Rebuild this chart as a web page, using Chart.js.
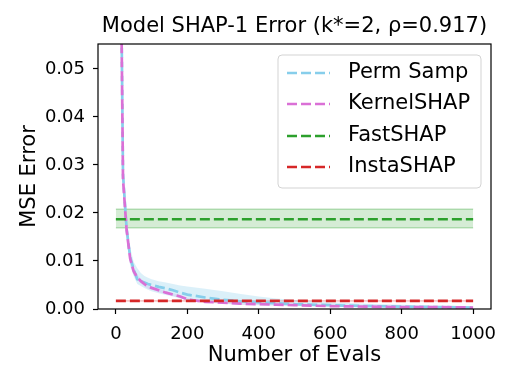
<!DOCTYPE html>
<html>
<head>
<meta charset="utf-8">
<script src="https://cdn.jsdelivr.net/npm/chart.js@4"></script>
<style>
  html, body { margin: 0; padding: 0; background: #fff; }
  #wrap { width: 515px; height: 386px; }
</style>
</head>
<body>
<div id="wrap"><canvas id="myChart" width="515" height="386"></canvas></div>
<script>
// evaluation counts for the sampling methods
const evals = [10, 20, 30, 40, 50, 60, 70, 80, 90, 100, 120, 140, 160, 180, 200,
    250, 300, 350, 400, 450, 500, 600, 700, 800, 900, 1000]
const permMean = [0.104, 0.028, 0.0168, 0.0108, 0.0082, 0.0062, 0.0058, 0.0055, 0.0052, 0.0050, 0.0046, 0.0043, 0.0039, 0.0034, 0.0030,
    0.0024, 0.0019, 0.0016, 0.0014, 0.0012, 0.0010, 0.0008, 0.0006, 0.0005, 0.0004, 0.0003]
const permHigh = [0.112, 0.032, 0.019, 0.0128, 0.0098, 0.0085, 0.0075, 0.0069, 0.0065, 0.0062, 0.0058, 0.0055, 0.0052, 0.0049, 0.0047,
    0.0042, 0.0037, 0.0031, 0.0026, 0.0022, 0.0019, 0.0014, 0.0011, 0.0009, 0.0007, 0.0006]
const permLow = [0.096, 0.024, 0.0145, 0.0090, 0.0068, 0.0052, 0.0048, 0.0044, 0.0040, 0.0037, 0.0033, 0.0029, 0.0026, 0.0022, 0.0019,
    0.0014, 0.0011, 0.0009, 0.0008, 0.0007, 0.0006, 0.0005, 0.0004, 0.0003, 0.0003, 0.0002]
const kernMean = [0.102, 0.027, 0.0165, 0.0105, 0.0078, 0.0066, 0.0058, 0.0052, 0.0047, 0.0044, 0.0039, 0.0034, 0.0030, 0.0026, 0.0020,
    0.0015, 0.0013, 0.0011, 0.0010, 0.0009, 0.0008, 0.0006, 0.0005, 0.0004, 0.0004, 0.0003]
const kernHigh = [0.106, 0.029, 0.0178, 0.0114, 0.0085, 0.0072, 0.0063, 0.0057, 0.0052, 0.0048, 0.0043, 0.0037, 0.0033, 0.0029, 0.0023,
    0.0017, 0.0014, 0.0012, 0.0011, 0.0010, 0.0009, 0.0007, 0.0006, 0.0005, 0.0005, 0.0004]
const kernLow = [0.098, 0.025, 0.0152, 0.0096, 0.0071, 0.0060, 0.0053, 0.0047, 0.0042, 0.0040, 0.0035, 0.0031, 0.0027, 0.0023, 0.0017,
    0.0013, 0.0011, 0.0009, 0.0009, 0.0008, 0.0007, 0.0005, 0.0004, 0.0003, 0.0003, 0.0002]

// amortized methods are flat over the whole range
const flatX = [0, 1000]
const fastMean = [0.0187, 0.0187]
const fastHigh = [0.0208, 0.0208]
const fastLow = [0.0169, 0.0169]
const instaMean = [0.0017, 0.0017]
const instaHigh = [0.0019, 0.0019]
const instaLow = [0.0015, 0.0015]

const xTicks = [0, 200, 400, 600, 800, 1000]
const yTicks = [0, 0.01, 0.02, 0.03, 0.04, 0.05]
const seriesNames = ['Perm Samp', 'KernelSHAP', 'FastSHAP', 'InstaSHAP']
const seriesColors = ['#87CEEB', '#DA70D6', '#2ca02c', '#d62728']
const titleText = 'Model SHAP-1 Error (k*=2, ρ=0.917)'

const pts = (xs, ys) => xs.map((x, i) => ({x: x, y: ys[i]}))

function band(xs, lo, hi, fillColor, edgeColor) {
    return [{
        data: pts(xs, lo), borderWidth: edgeColor ? 1 : 0, borderColor: edgeColor || 'transparent',
        pointRadius: 0, fill: false, order: 10
    }, {
        data: pts(xs, hi), borderWidth: edgeColor ? 1 : 0, borderColor: edgeColor || 'transparent',
        pointRadius: 0, fill: '-1', backgroundColor: fillColor, order: 10
    }]
}

function line(name, xs, ys, color, order) {
    return {
        label: name, data: pts(xs, ys), borderColor: color, borderWidth: 2.7,
        borderDash: [10, 4], pointRadius: 0, fill: false, tension: 0, order: order
    }
}

const datasets = [
    ...band(evals, permLow, permHigh, 'rgba(135,206,235,0.3)'),
    ...band(evals, kernLow, kernHigh, 'rgba(218,112,214,0.2)'),
    ...band(flatX, fastLow, fastHigh, 'rgba(44,160,44,0.2)', 'rgba(44,160,44,0.45)'),
    ...band(flatX, instaLow, instaHigh, 'rgba(214,39,40,0.25)'),
    line(seriesNames[0], evals, permMean, seriesColors[0], 4),
    line(seriesNames[1], evals, kernMean, seriesColors[1], 3),
    line(seriesNames[2], flatX, fastMean, seriesColors[2], 2),
    line(seriesNames[3], flatX, instaMean, seriesColors[3], 1)
]

// frame, title and legend box drawn like matplotlib
const decor = {
    id: 'decor',
    afterDraw(chart) {
        const ctx = chart.ctx
        const a = chart.chartArea
        ctx.save()
        ctx.strokeStyle = '#000'
        ctx.lineWidth = 1.2
        ctx.strokeRect(a.left, a.top, a.right - a.left, a.bottom - a.top)

        ctx.fillStyle = '#000'
        ctx.font = '21px "DejaVu Sans"'
        ctx.textAlign = 'center'
        ctx.textBaseline = 'middle'
        ctx.fillText(titleText, (a.left + a.right) / 2, 27)

        // legend
        const bx = 278, by = 55, bw = 203, bh = 133
        ctx.beginPath()
        ctx.roundRect(bx, by, bw, bh, 4)
        ctx.fillStyle = 'rgba(255,255,255,0.8)'
        ctx.fill()
        ctx.strokeStyle = '#d3d3d3'
        ctx.lineWidth = 1
        ctx.stroke()
        const rowY = [73, 104, 136, 167]
        seriesNames.forEach((name, i) => {
            ctx.beginPath()
            ctx.setLineDash([10, 4])
            ctx.strokeStyle = seriesColors[i]
            ctx.lineWidth = 2.7
            ctx.moveTo(287, rowY[i])
            ctx.lineTo(330, rowY[i])
            ctx.stroke()
            ctx.setLineDash([])
            ctx.fillStyle = '#000'
            ctx.textAlign = 'left'
            ctx.fillText(name, 348, rowY[i])
        })
        ctx.restore()
    }
}

Chart.defaults.font.family = '"DejaVu Sans", sans-serif'
Chart.defaults.color = '#000'

let myChart = new Chart(document.getElementById('myChart'), {
    type: 'line',
    data: {datasets: datasets},
    options: {
        responsive: false,
        animation: false,
        layout: {padding: {top: 44, right: 24, left: 0, bottom: 0}},
        plugins: {legend: {display: false}, tooltip: {enabled: false}},
        scales: {
            x: {
                type: 'linear', min: -50, max: 1050,
                afterBuildTicks: s => { s.ticks = xTicks.map(v => ({value: v})) },
                afterFit: s => { s.height = 77 },
                ticks: {font: {size: 18}, padding: 10, maxRotation: 0, callback: v => String(v)},
                grid: {drawOnChartArea: false, tickLength: 5, tickColor: '#000', tickWidth: 1.2},
                border: {display: false},
                title: {display: true, text: 'Number of Evals', font: {size: 21}, padding: {top: 0, bottom: 18}}
            },
            y: {
                type: 'linear', min: 0, max: 0.0552,
                afterBuildTicks: s => { s.ticks = yTicks.map(v => ({value: v})) },
                afterFit: s => { s.width = 98 },
                ticks: {font: {size: 18}, padding: 8, callback: v => v.toFixed(2)},
                grid: {drawOnChartArea: false, tickLength: 5, tickColor: '#000', tickWidth: 1.2},
                border: {display: false},
                title: {display: true, text: 'MSE Error', font: {size: 21}, padding: {top: 17, bottom: 0}}
            }
        }
    },
    plugins: [decor]
})
</script>
</body>
</html>
